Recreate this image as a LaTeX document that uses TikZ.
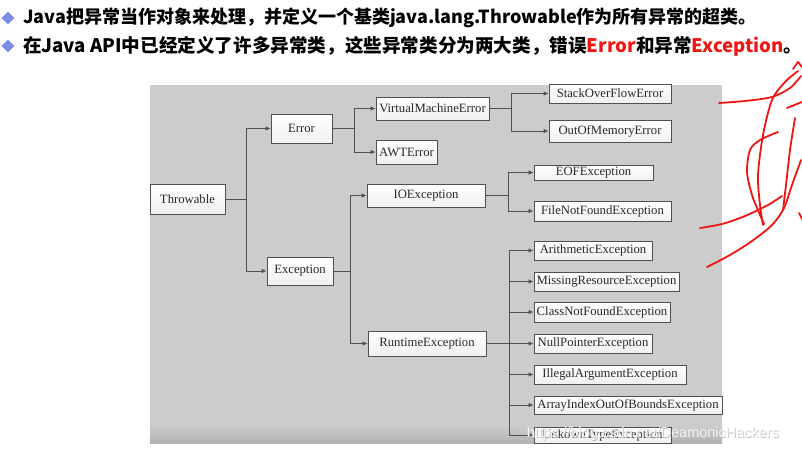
\documentclass[tikz,border=0pt]{standalone}
\usepackage{fontspec}
\setmainfont{Liberation Serif}
\newfontfamily\cjk{Noto Sans CJK SC}
\newfontfamily\wmfont{Liberation Sans}
\usetikzlibrary{arrows.meta,shapes.geometric}
\definecolor{panelgray}{RGB}{204,204,204}
\definecolor{linegray}{RGB}{80,80,80}
\definecolor{textgray}{RGB}{40,40,40}
\definecolor{inkred}{RGB}{238,22,18}
\definecolor{bulletblue}{RGB}{125,140,235}
\tikzset{
	cls/.style={draw=linegray, line width=0.8pt, top color=white, bottom color=black!6, text=textgray, inner sep=1pt, font=\fontsize{12.7}{14}\selectfont},
	link/.style={draw=linegray, line width=0.9pt},
	arr/.style={link, -{Latex[length=5pt,width=4.5pt]}},
	ink/.style={draw=inkred, line width=1.8pt, line cap=round, line join=round},
	bullet/.style={diamond, fill=bulletblue, minimum size=13pt, inner sep=0pt},
	headline/.style={anchor=west, inner sep=0pt, font=\cjk\bfseries\fontsize{18}{20}\selectfont},
	watermark/.style={inner sep=0pt, font=\wmfont\fontsize{14.5}{16}\selectfont},
}

\begin{document}
\begin{tikzpicture}[x=1pt,y=-1pt]
	\useasboundingbox (0,0) rectangle (802,453);
	\fill[white] (0,0) rectangle (802,453);

	% header
	\node[bullet] (b1) at (8,18) {};
	\node[bullet] (b2) at (8,46) {};
	\node[headline] (line1) at (23,18) {Java把异常当作对象来处理，并定义一个基类java.lang.Throwable作为所有异常的超类。};
	\node[headline, font=\cjk\bfseries\fontsize{18.6}{20}\selectfont] (line2) at (23,46) {在Java API中已经定义了许多异常类，这些异常类分为两大类，错误\textcolor{inkred}{Error}和异常\textcolor{inkred}{Exception}。};

	% panel
	\fill[panelgray] (150,85) rectangle (722,443);
	\shade[top color=panelgray, bottom color=black!30] (150,425) rectangle (722,443);

	\node[cls, minimum width=75,  minimum height=30] (throwable) at (187.5,199)   {Throwable};
	\node[cls, minimum width=61,  minimum height=29] (error)     at (301.5,128.5) {Error};
	\node[cls, minimum width=66,  minimum height=28] (exception) at (300,271)     {Exception};
	\node[cls, minimum width=113, minimum height=23] (vme)       at (432.5,108.5) {VirtualMachineError};
	\node[cls, minimum width=61,  minimum height=24] (awt)       at (406.5,152)   {AWTError};
	\node[cls, minimum width=118, minimum height=23] (ioe)       at (426,195.5)   {IOException};
	\node[cls, minimum width=118, minimum height=25] (rte)       at (427,343.5)   {RuntimeException};
	\node[cls, minimum width=122, minimum height=19] (soe)       at (610,93.5)    {StackOverFlowError};
	\node[cls, minimum width=122, minimum height=22] (oom)       at (610,131)     {OutOfMemoryError};
	\node[cls, minimum width=119, minimum height=15] (eof)       at (593.5,172.5) {EOFException};
	\node[cls, minimum width=137, minimum height=20] (fnf)       at (602.5,211)   {FileNotFoundException};
	\node[cls, minimum width=118, minimum height=19] (ari)       at (593,250.5)   {ArithmeticException};
	\node[cls, minimum width=145, minimum height=19] (mis)       at (606.5,281.5) {MissingResourceException};
	\node[cls, minimum width=136, minimum height=20] (cnf)       at (602,312)     {ClassNotFoundException};
	\node[cls, minimum width=118, minimum height=19] (npe)       at (593,343.5)   {NullPointerException};
	\node[cls, minimum width=152, minimum height=19] (iae)       at (610,374.5)   {IllegalArgumentException};
	\node[cls, minimum width=188, minimum height=18] (aio)       at (628,405)     {ArrayIndexOutOfBoundsException};
	\node[cls, minimum width=137, minimum height=16] (ute)       at (602.5,435)   {UnkownTypeException};

	% buses
	\coordinate (tb) at (246,199);
	\coordinate (eb) at (354,128.5);
	\coordinate (xb) at (350,271);
	\coordinate (vb) at (511,108.5);
	\coordinate (ib) at (508,195.5);
	\coordinate (rb) at (509,343.5);

	\path[link] (throwable.east) -- (tb);
	\path[arr] (tb) |- (error.west);
	\path[arr] (tb) |- (exception.west);
	\path[link] (error.east) -- (eb);
	\path[arr] (eb) |- (vme.west);
	\path[arr] (eb) |- (awt.west);
	\path[link] (exception.east) -- (xb);
	\path[arr] (xb) |- (ioe.west);
	\path[arr] (xb) |- (rte.west);
	\path[link] (vme.east) -- (vb);
	\path[arr] (vb) |- (soe.west);
	\path[arr] (vb) |- (oom.west);
	\path[link] (ioe.east) -- (ib);
	\path[arr] (ib) |- (eof.west);
	\path[arr] (ib) |- (fnf.west);
	\path[link] (rte.east) -- (rb);
	\foreach \t in {ari,mis,cnf,npe,iae,aio,ute}
		\path[arr] (rb) |- (\t.west);

	% watermark
	\node[watermark, text=black!25] (markshade) at (653.7,434.7) {https://blog.csdn.net/DeamonicHackers};
	\node[watermark, text=white, opacity=0.85] (mark) at (653,434) {https://blog.csdn.net/DeamonicHackers};

	% red scribbles
	\draw[ink] plot[smooth] coordinates {(719,103) (745,101) (772,97) (790,88) (801,76)};
	\draw[ink] plot[smooth] coordinates {(798,71) (785,82) (772,100) (763,135) (758,175) (760,205) (763,225)};
	\draw[ink] plot[smooth] coordinates {(778,132) (760,140) (750,150) (747,172) (752,195) (760,215) (764,224)};
	\draw[ink] plot[smooth] coordinates {(795,118) (790,150) (786,185) (783,210)};
	\draw[ink] plot[smooth] coordinates {(700,228) (722,224) (745,216) (768,205) (782,196)};
	\draw[ink] plot[smooth] coordinates {(707,267) (730,255) (752,241) (772,225) (784,208) (792,185) (801,160)};
	\draw[ink] (787,108) -- (802,102);
	\draw[ink] (799,213) -- (803,221);
	\draw[ink] (793,69) -- (798,62) -- (802,67);
\end{tikzpicture}
\end{document}
